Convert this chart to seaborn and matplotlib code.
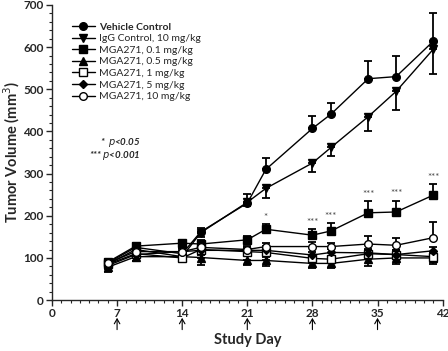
import numpy as np
import pandas as pd
import matplotlib
matplotlib.use("Agg")
import matplotlib.pyplot as plt
import seaborn as sns
from matplotlib.ticker import MultipleLocator

sns.set_style("ticks")
plt.rcParams['font.family'] = ['Lato', 'DejaVu Sans']

days = [6, 9, 14, 16, 21, 23, 28, 30, 34, 37, 41]
series_names = ["Vehicle Control", "IgG Control, 10 mg/kg", "MGA271, 0.1 mg/kg",
                "MGA271, 0.5 mg/kg", "MGA271, 1 mg/kg", "MGA271, 5 mg/kg",
                "MGA271, 10 mg/kg"]
vehicle = [88, 125, 110, 162, 230, 310, 407, 441, 525, 530, 614]
vehicle_err = [8, 8, 10, 10, 22, 28, 30, 26, 43, 49, 67]
igg = [85, 120, 103, 160, 232, 265, 325, 362, 435, 495, 595]
igg_err = [8, 8, 10, 10, 10, 22, 22, 20, 33, 45, 60]
mga01 = [90, 128, 135, 133, 143, 168, 154, 164, 207, 209, 249]
mga01_err = [8, 8, 8, 10, 10, 13, 15, 18, 27, 27, 27]
mga05 = [78, 103, 103, 101, 94, 94, 87, 87, 97, 100, 100]
mga05_err = [12, 10, 12, 17, 10, 12, 10, 10, 15, 15, 15]
mga1 = [85, 110, 100, 120, 115, 113, 99, 97, 110, 108, 103]
mga1_err = [8, 8, 8, 10, 8, 10, 8, 8, 10, 10, 10]
mga5 = [82, 108, 115, 118, 118, 118, 107, 113, 112, 108, 117]
mga5_err = [8, 8, 8, 10, 8, 10, 8, 8, 10, 10, 10]
mga10 = [88, 115, 115, 125, 120, 127, 127, 127, 133, 130, 148]
mga10_err = [8, 8, 8, 10, 8, 8, 10, 8, 18, 18, 37]

values = [vehicle, igg, mga01, mga05, mga1, mga5, mga10]
errors = [vehicle_err, igg_err, mga01_err, mga05_err, mga1_err, mga5_err, mga10_err]
err_dir = ["up", "down", "up", "down", "both", "both", "up"]
markers = ["o", "v", "s", "^", "s", "D", "o"]
facecolors = ["black", "black", "black", "black", "white", "black", "white"]
msizes = [5.5, 5.5, 5.5, 5.5, 5.5, 4.5, 5.5]

sig_days = [23, 28, 30, 34, 37, 41]
sig_labels = ["*", "***", "***", "***", "***", "***"]
dosing_days = [7, 14, 21, 28, 35]

df = pd.DataFrame({
    "day": np.tile(days, len(series_names)),
    "vol": np.concatenate(values),
    "group": np.repeat(series_names, len(days)),
})

fig = plt.figure(figsize=(4.48, 3.51), dpi=100)
ax = fig.add_axes([0.116, 0.145, 0.872, 0.841])

for i, name in enumerate(series_names):
    sub = df[df.group == name]
    v = np.array(values[i]); e = np.array(errors[i])
    lo = e if err_dir[i] in ("down", "both") else np.zeros_like(e)
    hi = e if err_dir[i] in ("up", "both") else np.zeros_like(e)
    ax.errorbar(days, v, yerr=[lo, hi], fmt="none", ecolor="black",
                elinewidth=1.3, capsize=3, capthick=1.3, zorder=2)
    sns.lineplot(data=sub, x="day", y="vol", ax=ax, color="black", lw=1.0,
                 marker=markers[i], markersize=msizes[i],
                 markerfacecolor=facecolors[i], markeredgecolor="black",
                 markeredgewidth=1.0, label=name, zorder=3)

for d, lab in zip(sig_days, sig_labels):
    idx = days.index(d)
    y = mga01[idx] + mga01_err[idx] + 5
    ax.text(d, y, lab, ha="center", va="bottom", fontsize=7, color="#444444")

ax.text(9.5, 374, "*  $p$<0.05", ha="right", va="center", fontsize=7,
        fontstyle="italic", fontweight="bold")
ax.text(9.5, 344, "*** $p$<0.001", ha="right", va="center", fontsize=7,
        fontstyle="italic", fontweight="bold")

ax.set_xlim(0, 42)
ax.set_ylim(0, 700)
ax.xaxis.set_major_locator(MultipleLocator(7))
ax.xaxis.set_minor_locator(MultipleLocator(1))
ax.yaxis.set_major_locator(MultipleLocator(100))
ax.yaxis.set_minor_locator(MultipleLocator(20))
ax.tick_params(axis="both", which="major", length=4, width=1, labelsize=8.5, pad=2)
ax.tick_params(axis="both", which="minor", length=2, width=0.8)
for lab in ax.get_xticklabels() + ax.get_yticklabels():
    lab.set_fontweight("bold")
for s in ["left", "bottom"]:
    ax.spines[s].set_linewidth(1.0)
sns.despine(ax=ax)

ax.set_xlabel("Study Day", fontsize=10.5, fontweight="bold", labelpad=10)
ax.set_ylabel("Tumor Volume (mm$^3$)", fontsize=10.5, fontweight="bold", labelpad=1)

for d in dosing_days:
    ax.annotate("", xy=(d, -42), xytext=(d, -70), xycoords="data",
                annotation_clip=False,
                arrowprops=dict(arrowstyle="->,head_length=0.35,head_width=0.2",
                                color="black", lw=0.8, shrinkA=0, shrinkB=0))

leg = ax.legend(loc="upper left", bbox_to_anchor=(0.04, 0.955), frameon=False,
                fontsize=7.5, handlelength=2.2, handletextpad=0.4,
                labelspacing=0.22, borderaxespad=0)
for j, t in enumerate(leg.get_texts()):
    t.set_fontweight("bold" if j == 0 else "normal")

fig.savefig("out.png", dpi=100)
